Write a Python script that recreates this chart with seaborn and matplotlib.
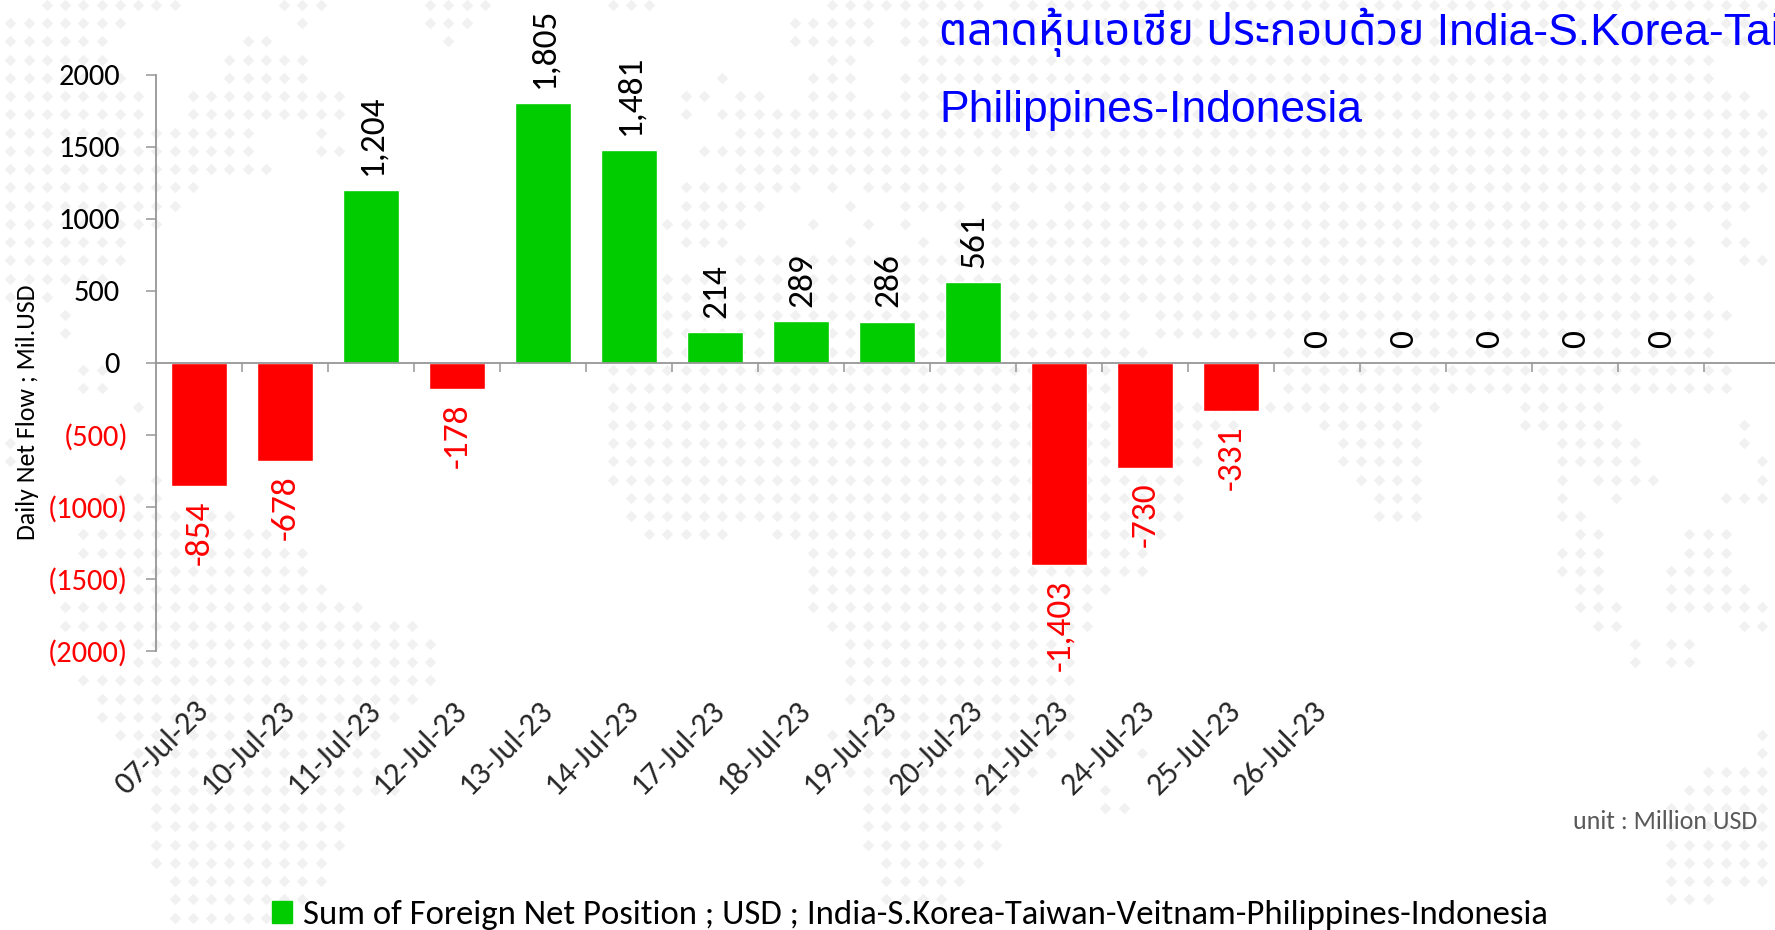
import matplotlib
matplotlib.use('Agg')
import logging
logging.getLogger('matplotlib.font_manager').setLevel(logging.ERROR)
import matplotlib.pyplot as plt
from matplotlib.patches import Patch
from matplotlib.transforms import ScaledTranslation
import numpy as np
import pandas as pd
import seaborn as sns

# ---- data ----
dates = ["07-Jul-23", "10-Jul-23", "11-Jul-23", "12-Jul-23", "13-Jul-23", "14-Jul-23",
         "17-Jul-23", "18-Jul-23", "19-Jul-23", "20-Jul-23", "21-Jul-23", "24-Jul-23",
         "25-Jul-23", "26-Jul-23", " ", "  ", "   ", "    "]
net_flow = [-854, -678, 1204, -178, 1805, 1481, 214, 289, 286, 561, -1403, -730, -331,
            0, 0, 0, 0, 0]
y_ticks = [2000, 1500, 1000, 500, 0, -500, -1000, -1500, -2000]
title_lines = ["ตลาดหุ้นเอเชีย ประกอบด้วย India-S.Korea-Taiwan-Veitnam-", "Philippines-Indonesia"]
legend_label = "Sum of Foreign Net Position ; USD ; India-S.Korea-Taiwan-Veitnam-Philippines-Indonesia"
y_label = "Daily Net Flow ; Mil.USD"
unit_label = "unit : Million USD"

# world-map dot texture: row index -> x extents of dot runs (image pixels)
map_rows = {
 0: [(50,176),(283,325),(430,486),(607,653),(827,986),(1012,1775)],
 1: [(13,122),(302,302),(430,467),(467,467),(790,871),(902,1775)],
 2: [(0,103),(249,268),(448,448),(790,871),(902,1775)],
 3: [(0,103),(230,302),(827,850),(920,1709)],
 4: [(0,120),(230,302),(720,720),(810,850),(902,1709)],
 5: [(0,140),(193,340),(683,703),(737,756),(810,850),(902,1748)],
 6: [(0,140),(193,340),(683,683),(718,1775)],
 7: [(0,249),(322,322),(737,1775)],
 8: [(0,249),(322,340),(703,1775)],
 9: [(0,268),(737,882),(902,959),(993,993),(1028,1775)],
 10: [(0,195),(683,794),(829,829),(867,959),(993,1775)],
 11: [(11,176),(683,756),(850,850),(905,959),(993,1012),(1062,1748)],
 12: [(11,160),(666,741),(812,812),(867,867),(905,905),(959,1680),(1720,1720)],
 13: [(11,126),(683,722),(850,850),(922,922),(959,1692),(1720,1743)],
 14: [(11,122),(737,1692),(1743,1765)],
 15: [(11,103),(666,1692)],
 16: [(11,50),(666,1709)],
 17: [(68,68),(666,1123),(1151,1726)],
 18: [(68,68),(666,1123),(1151,1709)],
 19: [(666,1145),(1285,1709)],
 20: [(84,103),(607,1145),(1285,1726)],
 21: [(84,103),(607,1145),(1296,1726)],
 22: [(138,138),(612,1431),(1519,1596)],
 23: [(612,1232),(1318,1412),(1519,1613),(1740,1740)],
 24: [(11,11),(612,1194),(1336,1412),(1554,1630),(1740,1740)],
 25: [(11,11),(612,1194),(1336,1412),(1554,1630),(1758,1758)],
 26: [(122,122),(159,159),(612,1175),(1355,1412),(1558,1558),(1594,1650),(1758,1758)],
 27: [(103,159),(630,1175),(1372,1412),(1558,1558),(1611,1611),(1722,1758)],
 28: [(122,233),(630,1175),(1372,1412),(1558,1575)],
 29: [(84,268),(648,722),(776,1159),(1575,1594),(1686,1722)],
 30: [(84,306),(812,1140),(1558,1594),(1686,1722)],
 31: [(122,306),(812,1140),(1558,1594),(1667,1722)],
 32: [(122,323),(812,1105),(1575,1594),(1667,1740)],
 33: [(67,360),(812,1086),(1575,1611),(1667,1758)],
 34: [(67,413),(831,1086),(1594,1611),(1740,1758)],
 35: [(122,432),(849,1067),(1630,1630),(1667,1686)],
 36: [(140,432),(849,1067),(1630,1630),(1667,1686)],
 37: [(84,432),(849,1067)],
 38: [(103,413),(849,1067)],
 39: [(103,398),(868,1067)],
 40: [(122,383),(831,1067),(1758,1758)],
 41: [(140,383),(868,1050),(1140,1140),(1758,1758)],
 42: [(140,383),(849,1032),(1703,1775)],
 43: [(157,398),(868,1013),(1105,1105),(1686,1775)],
 44: [(157,344),(868,1013),(1105,1122),(1667,1775)],
 45: [(157,344),(868,998),(1667,1775)],
 46: [(157,344),(868,998),(1667,1775)],
 47: [(157,325),(887,977),(1667,1775)],
 48: [(172,325),(887,960),(1667,1775)],
 49: [(172,306),(887,940),(1667,1703)],
 50: [(172,290)],
}

# ---- style ----
W, H = 1775, 930
GREEN, RED, GREY, DOT = "#00CC00", "#FF0000", "#969696", "#F1F1F1"
sns.set_theme(style="white")
BODY = ['Carlito', 'Lato', 'DejaVu Sans']
plt.rcParams['font.family'] = BODY
plt.rcParams['axes.unicode_minus'] = False
TITLE_FONT = ['Liberation Sans', 'Noto Sans Thai', 'Sarabun', 'Anuphan', 'DejaVu Sans']

fig = plt.figure(figsize=(W / 100, H / 100), dpi=100, facecolor="white")

# texture layer in image pixel coordinates
bg = fig.add_axes([0, 0, 1, 1], zorder=0)
bg.set_xlim(0, W); bg.set_ylim(H, 0); bg.axis("off")
PITCH, X0, Y0 = 18.25, 10.35, 5.0
dx, dy = [], []
for r, runs in map_rows.items():
    for lo, hi in runs:
        c0 = int(round((lo - X0) / PITCH)); c1 = int(round((hi - X0) / PITCH))
        for c in range(max(c0, 0), c1 + 1):
            dx.append(X0 + c * PITCH); dy.append(Y0 + r * PITCH)
bg.scatter(dx, dy, marker="D", s=34, color=DOT, linewidths=0, clip_on=True)

# chart
L, T, B = 156, 75, 651
ax = fig.add_axes([L / W, 1 - B / H, 1 - L / W, (B - T) / H], zorder=1)
ax.patch.set_alpha(0)

df = pd.DataFrame({"date": dates, "value": net_flow})
df["sign"] = np.where(df["value"] < 0, "neg", "pos")
sns.barplot(data=df, x="date", y="value", hue="sign", order=dates,
            palette={"pos": GREEN, "neg": RED}, dodge=False, width=0.645,
            legend=False, saturation=1, ax=ax)

ax.set_xlim(-0.5, (W - L) / 86 - 0.5)
ax.set_ylim(-2000, 2000)
ax.set_xlabel("")
ax.set_ylabel(y_label, fontsize=18.6, color="black", labelpad=0)
ax.yaxis.set_label_coords((39 - L) / (W - L), (B - 412) / (B - T))

for s in ("top", "right"):
    ax.spines[s].set_visible(False)
for s in ("left", "bottom"):
    ax.spines[s].set_color(GREY); ax.spines[s].set_linewidth(1.3)
ax.spines["bottom"].set_position(("data", 0))
ax.set_axisbelow(False)
ax.grid(False)

# y ticks
ax.set_yticks(y_ticks)
ax.set_yticklabels([f"({-v})" if v < 0 else str(v) for v in y_ticks], fontsize=22)
ax.tick_params(axis="y", left=True, length=7, width=1.1, color=GREY, pad=13)
for t, v, tick in zip(ax.get_yticklabels(), y_ticks, ax.yaxis.get_major_ticks()):
    t.set_color(RED if v < 0 else "black")
    if v >= 0:
        tick.set_pad(19)

# x ticks: category labels below the plot, tick marks between the categories
ax.set_xticks(range(len(dates)))
ax.set_xticks(np.arange(0.5, len(dates) - 0.4), minor=True)
ax.tick_params(axis="x", which="major", bottom=False, length=0, pad=0)
ax.tick_params(axis="x", which="minor", bottom=True, length=6.5, width=1.1, color=GREY)
ax.xaxis.set_ticks_position("bottom")
ax.set_xticklabels(dates, rotation=45, ha="right", rotation_mode="anchor", fontsize=23)
# labels hang from a fixed position below the plot, not from the zero line
off = ScaledTranslation(-5 / 100, -(695 - 362) / 100, fig.dpi_scale_trans)
for t in ax.get_xticklabels():
    t.set_transform(t.get_transform() + off)
    t.set_clip_on(False)

# value labels
for i, v in enumerate(net_flow):
    ax.annotate(f"{v:,}", (i, v), xytext=(0.8, -10.5 if v < 0 else 10.5),
                textcoords="offset points", rotation=90, ha="center",
                va="top" if v < 0 else "bottom", fontsize=25.5,
                color=RED if v < 0 else "black", annotation_clip=False)

# titles
fig.text(939 / W, 1 - 45 / H, title_lines[0], family=TITLE_FONT, fontsize=32,
         color="#0000FF", va="baseline", ha="left")
fig.text(939 / W, 1 - 122 / H, title_lines[1], family=TITLE_FONT, fontsize=32,
         color="#0000FF", va="baseline", ha="left")

# unit
fig.text(1757 / W, 1 - 821 / H, unit_label, fontsize=18.7, color="#595959", ha="right", va="center")

# legend
fig.legend(handles=[Patch(color=GREEN, label=legend_label)], loc="center left",
           bbox_to_anchor=(272 / W, 1 - 915 / H), frameon=False, fontsize=25,
           handlelength=0.585, handleheight=0.585, handletextpad=0.3, borderpad=0,
           borderaxespad=0, labelcolor="black")

fig.savefig("out.png", dpi=100)
